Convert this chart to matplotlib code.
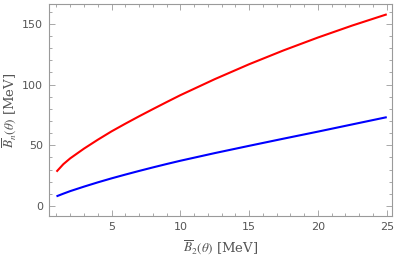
import numpy as np
import matplotlib
matplotlib.use('Agg')
import matplotlib.pyplot as plt
from matplotlib.ticker import MultipleLocator

plt.rcParams['mathtext.fontset'] = 'stix'

# Valores
b2 = [1, 1.5, 2, 3, 4, 5, 6, 7, 8, 9, 10, 12.5, 15, 17.5, 20, 22.5, 25]
bn_rojo = [28.3, 34.5, 39.3, 47.3, 54.6, 61.5, 67.8, 73.9, 79.8, 85.6, 91.3,
           104.5, 116.8, 128.2, 138.8, 148.7, 157.9]
bn_azul = [8.0, 10.2, 12.3, 16.0, 19.5, 22.8, 25.9, 28.9, 31.8, 34.6, 37.3,
           43.6, 49.6, 55.5, 61.3, 67.25, 73.2]

gris = '#9a9a9a'
texto = '#555555'

fig = plt.figure(figsize=(3.99, 2.61), dpi=100)
ax = fig.add_axes([48.5/399, 1 - 216/261, (392 - 48.5)/399, (216 - 4)/261])

ax.plot(b2, bn_rojo, color='red', lw=1.5, solid_capstyle='butt')
ax.plot(b2, bn_azul, color='blue', lw=1.5, solid_capstyle='butt')

ax.set_xlim(0.42, 25.38)
ax.set_ylim(-8.2, 166.4)
ax.xaxis.set_major_locator(MultipleLocator(5))
ax.xaxis.set_minor_locator(MultipleLocator(1))
ax.yaxis.set_major_locator(MultipleLocator(50))
ax.yaxis.set_minor_locator(MultipleLocator(10))
ax.set_xticks([5, 10, 15, 20, 25])

for s in ax.spines.values():
    s.set_color(gris)
    s.set_linewidth(0.8)
ax.tick_params(which='both', direction='in', top=True, right=True,
               color=gris, labelcolor=texto, labelsize=8, width=0.6)
ax.tick_params(which='major', length=4, pad=4)
ax.tick_params(which='minor', length=2)

ax.set_xlabel(r'$\overline{B}_{2}(\theta)$ [MeV]', fontsize=9.5,
              family='serif', color=texto, labelpad=5)
ax.set_ylabel(r'$\overline{B}_{n}(\theta)$ [MeV]', fontsize=9.5,
              family='serif', color=texto, labelpad=3)

fig.savefig('out.png', dpi=100)
